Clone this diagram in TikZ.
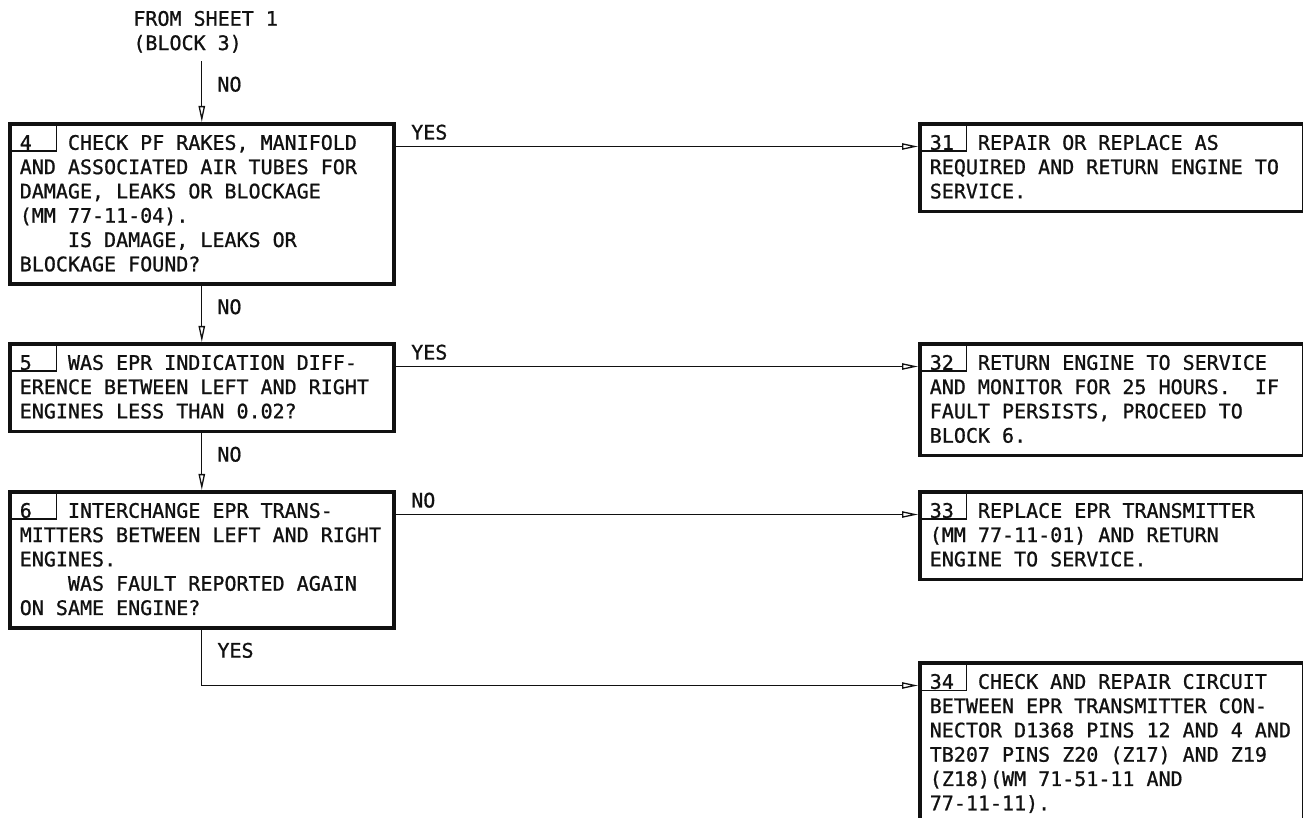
\documentclass[tikz,border=0pt]{standalone}
\usepackage{fontspec}
\usetikzlibrary{arrows.meta,calc,positioning}
\newfontfamily\chartfont{DejaVu Sans Mono}[FakeBold=0.9]
\definecolor{ckInk}{HTML}{111111}
% fixed-pitch spaces, one cell wide
\newcommand{\chartsize}{\fontsize{10}{12.15}\selectfont\frenchspacing}
\newcommand{\monospaces}{\spaceskip=6.02pt\xspaceskip=6.02pt\relax}
\tikzset{
 chart/.style={font=\chartfont\chartsize,text=ckInk},
 block/.style={draw=ckInk,line width=1.8pt,anchor=north west,align=left,text width=182pt,inner xsep=5pt,inner ysep=0pt,
   execute at begin node=\monospaces},
 numcell/.style={draw=ckInk,line width=.65pt,anchor=north west,inner sep=0pt,minimum width=24pt,minimum height=14.25pt},
 flow/.style={draw=ckInk,line width=.65pt,-{Triangle[open,length=8pt,width=3.2pt]}},
 branch/.style={anchor=base west,inner sep=0pt,xshift=7.5pt},
 srcnote/.style={anchor=north west,align=left,inner sep=0pt,execute at begin node=\monospaces}
}
\newcommand{\topln}{\rule{0pt}{13pt}}
\newcommand{\botln}{\rule[-6.5pt]{0pt}{6.5pt}}

\begin{document}
\begin{tikzpicture}[chart,x=.5pt,y=-.5pt]
 \path[use as bounding box] (0,0) rectangle (1303,818);
 \clip (0,0) rectangle (1303,818);
 % question blocks
 \node[srcnote] (src) at (133,10.5) {FROM SHEET 1\\(BLOCK 3)};
 \node[block] (b4) at (8,122) {\topln 4\phantom{000}CHECK PF RAKES, MANIFOLD\\
  AND ASSOCIATED AIR TUBES FOR\\
  DAMAGE, LEAKS OR BLOCKAGE\\
  (MM 77-11-04).\\
  \phantom{0000}IS DAMAGE, LEAKS OR\\
  BLOCKAGE FOUND?\botln};
 \node[block] (b5) at (8,342) {\topln 5\phantom{000}WAS EPR INDICATION DIFF-\\
  ERENCE BETWEEN LEFT AND RIGHT\\
  ENGINES LESS THAN 0.02?\botln};
 \node[block] (b6) at (8,490) {\topln 6\phantom{000}INTERCHANGE EPR TRANS-\\
  MITTERS BETWEEN LEFT AND RIGHT\\
  ENGINES.\\
  \phantom{0000}WAS FAULT REPORTED AGAIN\\
  ON SAME ENGINE?\botln};
 % action blocks
 \node[block] (b31) at (918,122) {\topln 31\phantom{00}REPAIR OR REPLACE AS\\
  REQUIRED AND RETURN ENGINE TO\\
  SERVICE.\botln};
 \node[block] (b32) at (918,342) {\topln 32\phantom{00}RETURN ENGINE TO SERVICE\\
  AND MONITOR FOR 25 HOURS.~~IF\\
  FAULT PERSISTS, PROCEED TO\\
  BLOCK 6.\botln};
 \node[block] (b33) at (918,490) {\topln 33\phantom{00}REPLACE EPR TRANSMITTER\\
  (MM 77-11-01) AND RETURN\\
  ENGINE TO SERVICE.\botln};
 \node[block] (b34) at (918,661) {\topln 34\phantom{00}CHECK AND REPAIR CIRCUIT\\
  BETWEEN EPR TRANSMITTER CON-\\
  NECTOR D1368 PINS 12 AND 4 AND\\
  TB207 PINS Z20 (Z17) AND Z19\\
  (Z18)(WM 71-51-11 AND\\
  77-11-11).\botln};
 \foreach \b in {4,5,6,31,32,33,34}{\node[numcell] (c\b) at (b\b.north west) {};}
 % connectors
 \draw[flow] ($(src.south -| b4.north)+(0,-4pt)$) -- node[branch]{NO} (b4.north);
 \draw[flow] (b4.south) -- node[branch]{NO} (b5.north);
 \draw[flow] (b5.south) -- node[branch]{NO} (b6.north);
 \draw[flow] ([yshift=-12.25pt]b4.north east) -- node[branch,pos=0,yshift=3.5pt]{YES} ([yshift=-12.25pt]b31.north west);
 \draw[flow] ([yshift=-12.25pt]b5.north east) -- node[branch,pos=0,yshift=3.5pt]{YES} ([yshift=-12.25pt]b32.north west);
 \draw[flow] ([yshift=-12.25pt]b6.north east) -- node[branch,pos=0,yshift=3.5pt]{NO} ([yshift=-12.25pt]b33.north west);
 \draw[flow] (b6.south) |- node[branch,pos=.25]{YES} ([yshift=-12.25pt]b34.north west);
\end{tikzpicture}
\end{document}
